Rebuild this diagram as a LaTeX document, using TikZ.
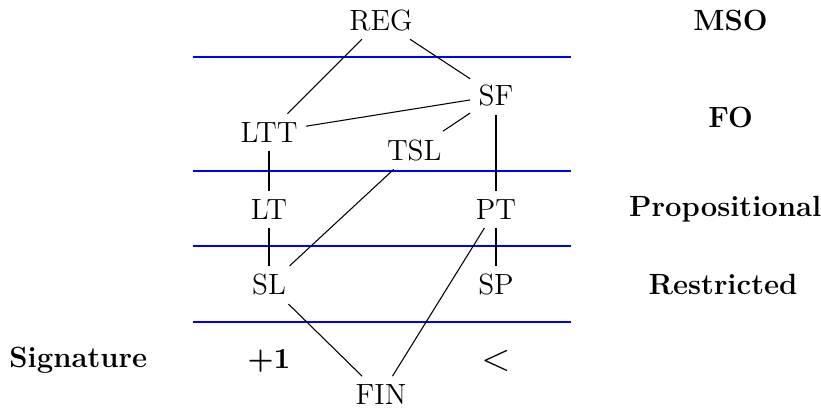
\documentclass[tikz,border=0pt]{standalone}
\usepackage{amsmath}
\usepackage{tikz}
\usetikzlibrary{positioning, calc}

\begin{document}
\begin{tikzpicture}[draw=black!100]
	\fontsize{11}{13}\selectfont
	\useasboundingbox (-3.555,-1.625) rectangle (7.295,3.766);
	\def \rowreg{3.50}
	\def \rowsf{2.50}
	\def \rowltt{2.02}
	\def \rowtsl{1.78}
	\def \rowone{1.0}
	\def \rowtwo{0cm}
	\def \rowsig{-1.0}
	\def \rowfin{-1.45}
	\tikzstyle{c-node}=[inner sep=3pt]
	\tikzstyle{l-node}=[inner sep=3pt, font=\bfseries]
	\tikzstyle{sep-line}=[blue, line width=0.8pt]
	% class nodes
	\node[c-node] 	(reg)	at (1.48,\rowreg)	{REG};
	\node[c-node] 	(sf)	at (3.0,\rowsf)		{SF};
	\node[c-node] 	(ltt)	at (0,\rowltt)		{LTT};
	\node[c-node] 	(tsl)	at (1.92,\rowtsl)	{TSL};
	\node[c-node] 	(lt)	at (0,\rowone)		{LT};
	\node[c-node] 	(pt)	at (3.0,\rowone)	{PT};
	\node[c-node] 	(sl)	at (0,\rowtwo)		{SL};
	\node[c-node] 	(sp)	at (3.0,\rowtwo)	{SP};
	\node[c-node] 	(fin)	at (1.48,\rowfin)	{FIN};
	% level labels
	\node[l-node] 	(mso)	at (6.1,\rowreg)	{MSO};
	\node[l-node] 	(fo)	at (6.1,2.22)		{FO};
	\node[l-node] 	(prop)	at (6.03,\rowone)	{Propositional};
	\node[l-node] 	(restr)	at (6.0,\rowtwo)	{Restricted};
	\node[l-node] 	(sig)	at (-2.52,\rowsig)	{Signature};
	\node[c-node] 	(succ)	at (0,\rowsig)		{$\boldsymbol{+1}$};
	\node[c-node] 	(prec)	at (3.0,\rowsig)	{\Large$<$};
	% separators
	\draw[sep-line] (-1.01,3.01) -- (3.99,3.01);
	\draw[sep-line] (-1.01,1.51) -- (3.99,1.51);
	\draw[sep-line] (-1.01,0.51) -- (3.99,0.51);
	\draw[sep-line] (-1.01,-0.49) -- (3.99,-0.49);
	% inclusions
	\draw (reg) -- (ltt);
	\draw (reg) -- (sf);
	\draw (ltt) -- (sf);
	\draw (sf) -- (tsl);
	\draw (sf) -- (pt);
	\draw (ltt) -- (lt);
	\draw (lt) -- (sl);
	\draw (tsl) -- (sl);
	\draw (pt) -- (sp);
	\draw (pt) -- (fin);
	\draw (sl) -- (fin);
\end{tikzpicture}
\end{document}
